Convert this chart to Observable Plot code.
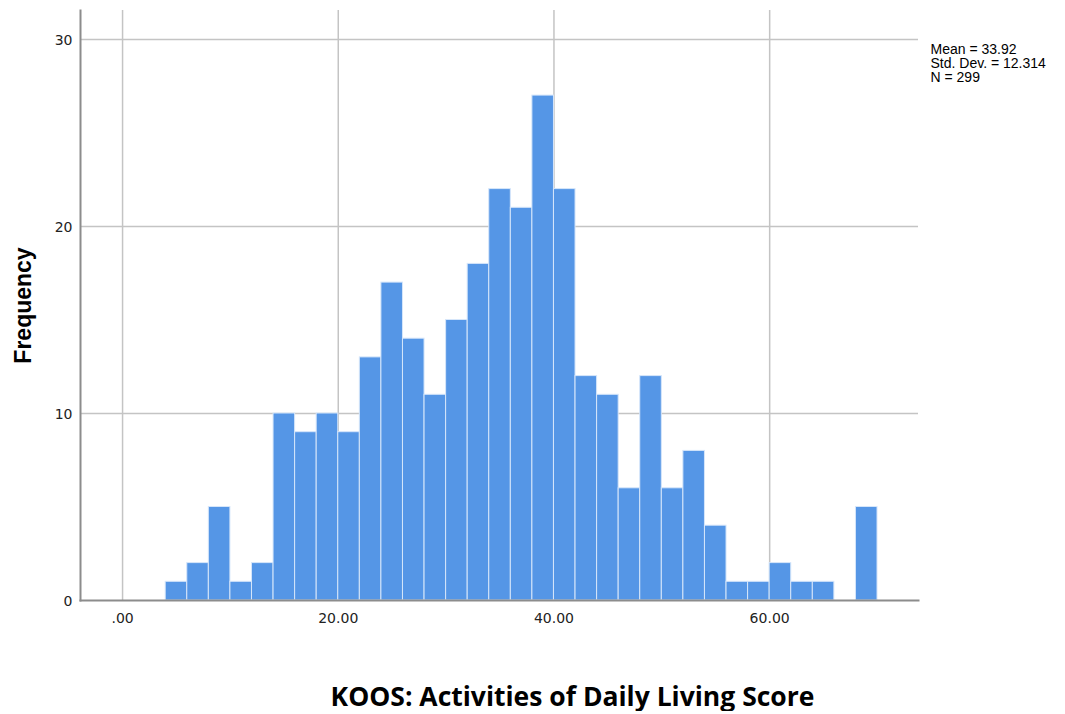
<!DOCTYPE html>
<html>
<head>
<meta charset="utf-8">
<script src="https://cdn.jsdelivr.net/npm/d3@7"></script>
<script src="https://cdn.jsdelivr.net/npm/@observablehq/plot@0.6"></script>
<style>
  html, body { margin: 0; padding: 0; background: #fff; }
  #wrap { width: 1065px; position: relative; }
  #title { width: 1065px; text-align: center; font-family: "Open Sans", sans-serif; font-weight: bold; font-size: 26.5px; line-height: 30px; padding-top: 21px; color: #000; padding-left: 80px; box-sizing: border-box; white-space: nowrap; }
</style>
</head>
<body>
<div id="wrap"></div>
<div id="title">KOOS: Activities of Daily Living Score</div>
<script>
const binLower = [4, 6, 8, 10, 12, 14, 16, 18, 20, 22, 24, 26, 28, 30, 32, 34, 36, 38, 40, 42, 44, 46, 48, 50, 52, 54, 56, 58, 60, 62, 64, 66, 68];
const binUpper = [6, 8, 10, 12, 14, 16, 18, 20, 22, 24, 26, 28, 30, 32, 34, 36, 38, 40, 42, 44, 46, 48, 50, 52, 54, 56, 58, 60, 62, 64, 66, 68, 70];
const counts   = [1, 2, 5, 1, 2, 10, 9, 10, 9, 13, 17, 14, 11, 15, 18, 22, 21, 27, 22, 12, 11, 6, 12, 6, 8, 4, 1, 1, 2, 1, 1, 0, 5];
const xTicks = [0, 20, 40, 60];
const yTicks = [0, 10, 20, 30];
const statsLines = ["Mean = 33.92", "Std. Dev. = 12.314", "N = 299"];

const bins = binLower.map((lo, i) => ({x1: lo, x2: binUpper[i], y: counts[i]})).filter(d => d.y > 0);
const fmtX = v => d3.format(".2f")(v).replace(/^0\./, ".");
const tickFont = "'DejaVu Sans', Verdana, sans-serif";

const chart = Plot.plot({
  width: 1065,
  height: 660,
  marginTop: 10,
  marginBottom: 60,
  marginLeft: 80,
  marginRight: 147,
  style: {fontFamily: "'Liberation Sans', Arial, sans-serif", fontSize: "14px", color: "#222", background: "#fff"},
  x: {domain: [-3.9, 73.8], label: null},
  y: {domain: [0, 31.55], label: null},
  marks: [
    Plot.gridX(xTicks, {stroke: "#c4c4c4", strokeOpacity: 1, strokeWidth: 1.5}),
    Plot.gridY(yTicks.filter(d => d > 0), {stroke: "#c4c4c4", strokeOpacity: 1, strokeWidth: 1.5}),
    Plot.axisX({ticks: xTicks, tickFormat: fmtX, tickSize: 0, tickPadding: 13, label: null, fontSize: 14, fontFamily: tickFont}),
    Plot.axisY({ticks: yTicks, tickSize: 0, tickPadding: 8, label: null, fontSize: 14, fontFamily: tickFont, dy: 1}),
    Plot.rectY(bins, {x1: "x1", x2: "x2", y: "y", fill: "#5596e6", stroke: "#d6e6fa", strokeWidth: 1, inset: 0}),
    Plot.frame({anchor: "left", stroke: "#8c8c8c", strokeWidth: 2}),
    Plot.frame({anchor: "bottom", stroke: "#8c8c8c", strokeWidth: 2}),
    Plot.text([statsLines.join("\n")], {frameAnchor: "top-right", dx: 12, dy: 33, textAnchor: "start", lineAnchor: "top", lineHeight: 1.02, fontSize: 14, fill: "#000"}),
    Plot.text(["Frequency"], {frameAnchor: "left", dx: -57, rotate: -90, textAnchor: "middle", fontSize: 23, fontWeight: "bold", fill: "#000"})
  ]
});
document.getElementById("wrap").appendChild(chart);
</script>
</body>
</html>
